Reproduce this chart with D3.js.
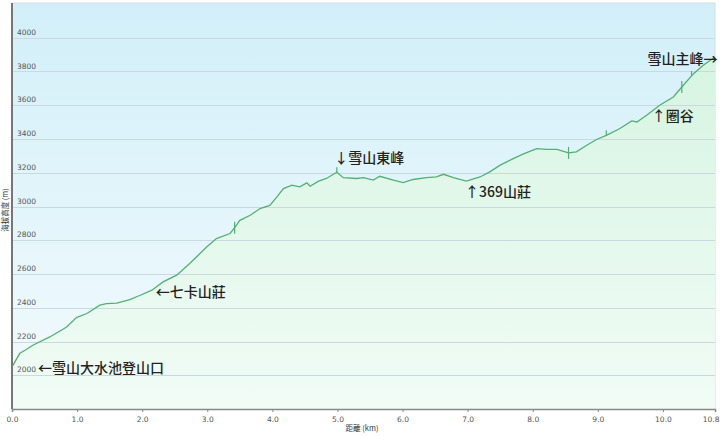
<!DOCTYPE html>
<html>
<head>
<meta charset="utf-8">
<script src="https://cdn.jsdelivr.net/npm/d3@7"></script>
<style>
  body { margin: 0; background: #fff; }
</style>
</head>
<body>
<script>
// elevation profile (km, m)
var distKm = [0.00, 0.12, 0.20, 0.32, 0.58, 0.84, 0.99, 1.15, 1.35, 1.45, 1.61, 1.81, 1.97, 2.15, 2.32, 2.53, 2.73, 2.99, 3.14, 3.35, 3.43,
              3.50, 3.66, 3.81, 3.96, 4.07, 4.17, 4.30, 4.42, 4.53, 4.58, 4.71, 4.83, 4.99, 5.09, 5.29, 5.40, 5.55, 5.65, 5.86, 6.01,
              6.16, 6.37, 6.52, 6.63, 6.78, 6.98, 7.19, 7.34, 7.50, 7.70, 7.85, 8.06, 8.21, 8.37, 8.55, 8.67, 8.83, 8.98, 9.13, 9.34,
              9.52, 9.60, 9.75, 9.95, 10.16, 10.29, 10.47, 10.62, 10.80];
var elevM = [2050, 2130, 2148, 2178, 2227, 2286, 2342, 2366, 2415, 2425, 2428, 2448, 2474, 2504, 2553, 2593, 2662, 2760, 2810, 2840, 2879,
             2918, 2948, 2988, 3007, 3057, 3106, 3126, 3116, 3140, 3120, 3150, 3166, 3203, 3171, 3166, 3171, 3156, 3179, 3156, 3142,
             3160, 3171, 3175, 3191, 3171, 3151, 3175, 3205, 3245, 3284, 3310, 3343, 3338, 3338, 3318, 3324, 3363, 3397, 3422, 3462,
             3507, 3501, 3541, 3600, 3649, 3708, 3787, 3837, 3886];

// waypoint ticks drawn on the line
var markerKm = [3.42, 4.99, 8.55, 9.13, 10.29, 10.44];
var markerKind = ["long", "up", "long", "up", "long", "up"];

// annotations: text, anchor km, anchor elevation
var noteText = ["←雪山大水池登山口", "←七卡山莊", "↓雪山東峰", "↑369山莊", "↑圈谷", "雪山主峰→"];
var noteKm = [0.40, 2.21, 4.95, 6.96, 9.83, 10.84];
var noteElev = [2047, 2498, 3292, 3090, 3541, 3879];

var yTicks = [2000, 2200, 2400, 2600, 2800, 3000, 3200, 3400, 3600, 3800, 4000];
var xTicks = [0, 1, 2, 3, 4, 5, 6, 7, 8, 9, 10, 10.8];

var width = 720, height = 437;
var plotLeft = 12, plotRight = 715, plotTop = 4, plotBottom = 409;

var svg = d3.select("body").append("svg")
    .attr("width", width)
    .attr("height", height);

var x = d3.scaleLinear().domain([0, 10.8]).range([plotLeft, plotRight]);
var y = d3.scaleLinear().domain([1800, 4200]).range([plotBottom, plotTop]);

var defs = svg.append("defs");
var bg = defs.append("linearGradient").attr("id", "bg")
    .attr("x1", 0).attr("y1", 0).attr("x2", 0).attr("y2", 1);
bg.append("stop").attr("offset", "0%").attr("stop-color", "#d2eff9");
bg.append("stop").attr("offset", "100%").attr("stop-color", "#f3fbfd");

var ag = defs.append("linearGradient").attr("id", "areaFill")
    .attr("gradientUnits", "userSpaceOnUse")
    .attr("x1", 0).attr("y1", plotTop).attr("x2", 0).attr("y2", plotBottom);
ag.append("stop").attr("offset", "0%").attr("stop-color", "#d3f3df");
ag.append("stop").attr("offset", "100%").attr("stop-color", "#f1fcf6");

// plot background + frame
svg.append("rect")
    .attr("x", plotLeft).attr("y", plotTop - 1)
    .attr("width", plotRight - plotLeft).attr("height", plotBottom - plotTop + 1)
    .attr("fill", "url(#bg)")
    .attr("stroke", "#d4dde0");

var profile = distKm.map(function(d, i) { return [d, elevM[i]]; });

svg.append("path")
    .datum(profile)
    .attr("fill", "url(#areaFill)")
    .attr("d", d3.area()
        .x(function(d) { return x(d[0]); })
        .y0(plotBottom)
        .y1(function(d) { return y(d[1]); }));

// gridlines
svg.append("g")
    .selectAll("line")
    .data(yTicks)
    .join("line")
    .attr("x1", plotLeft).attr("x2", plotRight)
    .attr("y1", function(d) { return Math.round(y(d)) + 0.5; })
    .attr("y2", function(d) { return Math.round(y(d)) + 0.5; })
    .attr("stroke", "#cad9df")
    .attr("stroke-width", 1);

svg.append("g")
    .selectAll("text")
    .data(yTicks)
    .join("text")
    .attr("x", plotLeft + 5)
    .attr("y", function(d) { return y(d) - 3; })
    .attr("font-family", "DejaVu Sans")
    .attr("font-size", "7.5px")
    .attr("fill", "#555")
    .text(function(d) { return d; });

// profile line
svg.append("path")
    .datum(profile)
    .attr("fill", "none")
    .attr("stroke", "#52b074")
    .attr("stroke-width", 1.3)
    .attr("d", d3.line()
        .x(function(d) { return x(d[0]); })
        .y(function(d) { return y(d[1]); }));

// waypoint ticks
var elevAt = d3.scaleLinear().domain(distKm).range(elevM);
svg.append("g")
    .selectAll("line")
    .data(markerKm)
    .join("line")
    .attr("x1", function(d) { return x(d); })
    .attr("x2", function(d) { return x(d); })
    .attr("y1", function(d, i) { return y(elevAt(d)) - (markerKind[i] == "long" ? 6 : 5); })
    .attr("y2", function(d, i) { return y(elevAt(d)) + (markerKind[i] == "long" ? 6 : 0); })
    .attr("stroke", "#52b074")
    .attr("stroke-width", 1.2);

// axes
svg.append("line")
    .attr("x1", plotLeft).attr("x2", plotLeft)
    .attr("y1", plotTop - 1).attr("y2", plotBottom)
    .attr("stroke", "#777")
    .attr("stroke-width", 2);

var xAxis = svg.append("g")
    .attr("transform", "translate(0," + plotBottom + ")")
    .call(d3.axisBottom(x).tickValues(xTicks).tickSize(3).tickFormat(d3.format(".1f")));
xAxis.select(".domain").attr("stroke", "#888").attr("stroke-width", 1.5);
xAxis.selectAll(".tick line").attr("stroke", "#888");
xAxis.selectAll("text")
    .attr("font-family", "DejaVu Sans")
    .attr("font-size", "7.5px")
    .attr("fill", "#555")
    .attr("dy", "0.9em");
xAxis.selectAll(".tick").filter(function(d) { return d == 10.8; })
    .select("text").attr("text-anchor", "end").attr("dx", "4");

svg.append("text")
    .attr("x", 362)
    .attr("y", 431)
    .attr("text-anchor", "middle")
    .attr("font-family", "Noto Sans CJK TC")
    .attr("font-size", "7.5px")
    .attr("fill", "#333")
    .text("距離 (km)");

svg.append("text")
    .attr("transform", "translate(8,210) rotate(-90)")
    .attr("text-anchor", "middle")
    .attr("font-family", "Noto Sans CJK TC")
    .attr("font-size", "7.5px")
    .attr("fill", "#333")
    .text("海拔高度 (m)");

// annotations
svg.append("g")
    .selectAll("text")
    .data(noteText)
    .join("text")
    .attr("x", function(d, i) { return x(noteKm[i]); })
    .attr("y", function(d, i) { return y(noteElev[i]); })
    .attr("dominant-baseline", "central")
    .attr("text-anchor", function(d, i) { return i == noteText.length - 1 ? "end" : "start"; })
    .attr("font-family", "Noto Sans CJK TC")
    .attr("font-size", "14px")
    .attr("font-weight", "500")
    .attr("fill", "#222")
    .text(function(d) { return d; });
</script>
</body>
</html>
